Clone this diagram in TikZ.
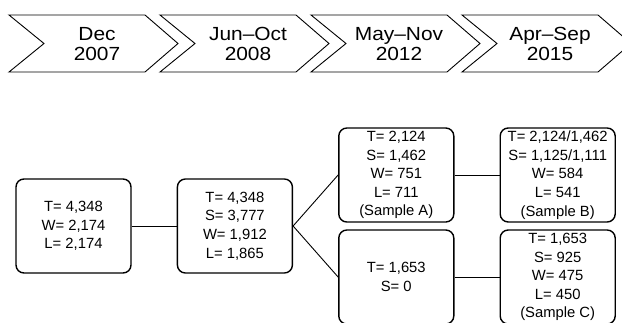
\documentclass[tikz,border=0pt]{standalone}
\usepackage{fontspec}
\setmainfont{Liberation Sans}
\newfontfamily\chevfont[FakeStretch=1.1]{Liberation Sans}
\usepackage{tikz}
\usetikzlibrary{positioning}
\tikzset{
  phase/.style={draw,line width=0.9pt,line join=miter},
  phaselbl/.style={align=center,inner sep=0pt,font=\chevfont\fontsize{19}{19.5}\selectfont},
  cnt/.style={draw,line width=1.4pt,rounded corners=8pt,minimum width=115pt,
    minimum height=94pt,inner sep=0pt,align=center,font=\fontsize{14.8}{18.6}\selectfont},
  link/.style={line width=0.9pt},
}
\begin{document}
\begin{tikzpicture}[x=1pt,y=-1pt,node distance=5mm and 45pt]
\useasboundingbox (0,0) rectangle (622,322);
\foreach \lbl [count=\i from 0] in {{Dec\\2007},{Jun–Oct\\2008},{May–Nov\\2012},{Apr–Sep\\2015}}{
  \draw[phase] (9+151*\i,15) -- ++(136,0) -- ++(33,28.5) -- ++(-33,28.5) -- ++(-136,0) -- ++(35,-28.5) -- cycle;
  \node[phaselbl] (ph\i) at (97+151*\i,44) {\lbl};
}
\node[cnt] (b1) at (73.5,226) {T= 4,348\\W= 2,174\\L= 2,174};
\node[cnt,right=of b1] (b2) {T= 4,348\\S= 3,777\\W= 1,912\\L= 1,865};
\node[cnt,right=of b2,yshift=51pt] (b3) {T= 2,124\\S= 1,462\\W= 751\\L= 711\\(Sample A)};
\node[cnt,right=of b3] (b4) {T= 2,124/1,462\\S= 1,125/1,111\\W= 584\\L= 541\\(Sample B)};
\node[cnt,right=of b2,yshift=-51pt] (b5) {T= 1,653\\S= 0};
\node[cnt,right=of b5] (b6) {T= 1,653\\S= 925\\W= 475\\L= 450\\(Sample C)};
\draw[link] (b1) -- (b2);
\draw[link] (b2.east) -- (b3.west);
\draw[link] (b2.east) -- (b5.west);
\draw[link] (b3) -- (b4);
\draw[link] (b5) -- (b6);
\end{tikzpicture}
\end{document}
